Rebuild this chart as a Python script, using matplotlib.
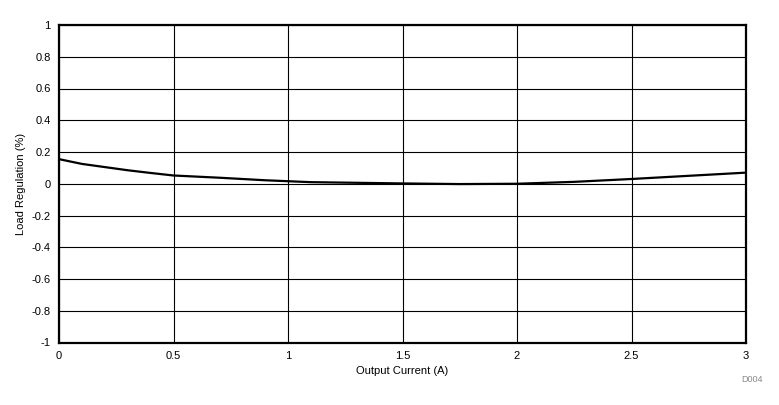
import matplotlib
matplotlib.use('Agg')
import matplotlib.pyplot as plt

plt.rcParams['font.family'] = ['Liberation Sans', 'DejaVu Sans']

# load regulation curve
current = [0.0, 0.05, 0.1, 0.2, 0.3, 0.4, 0.5, 0.6, 0.7, 0.8, 0.9, 1.0,
           1.1, 1.25, 1.5, 1.75, 2.0, 2.25, 2.5, 2.75, 3.0]
regulation = [0.155, 0.14, 0.125, 0.105, 0.085, 0.068, 0.052, 0.045, 0.038, 0.03, 0.022, 0.016,
              0.01, 0.007, 0.002, -0.002, 0.0, 0.012, 0.03, 0.05, 0.07]

x_ticks = [0, 0.5, 1, 1.5, 2, 2.5, 3]
x_labels = ['0', '0.5', '1', '1.5', '2', '2.5', '3']
y_ticks = [-1, -0.8, -0.6, -0.4, -0.2, 0, 0.2, 0.4, 0.6, 0.8, 1]
y_labels = ['-1', '-0.8', '-0.6', '-0.4', '-0.2', '0', '0.2', '0.4', '0.6', '0.8', '1']

fig = plt.figure(figsize = (7.79, 4.05), dpi = 100)
ax = fig.add_axes([59 / 779, 1 - 342.5 / 405, (746 - 59) / 779, (342.5 - 25) / 405])

ax.plot(current, regulation, color = 'black', linewidth = 1.6)

ax.set_xlim(0, 3)
ax.set_ylim(-1, 1)
ax.set_xticks(x_ticks)
ax.set_xticklabels(x_labels)
ax.set_yticks(y_ticks)
ax.set_yticklabels(y_labels)
ax.tick_params(length = 0, labelsize = 8, pad = 6)
ax.grid(True, color = 'black', linewidth = 0.8)
ax.set_axisbelow(True)
for s in ax.spines.values():
	s.set_linewidth(1.6)

ax.set_xlabel('Output Current (A)', fontsize = 8, labelpad = 4)
ax.set_ylabel('Load Regulation (%)', fontsize = 8, labelpad = 4)
fig.text(763 / 779, 1 - 380 / 405, 'D004', fontsize = 6.5, color = '#888888', ha = 'right', va = 'center')

plt.savefig('out.png', dpi = 100)
